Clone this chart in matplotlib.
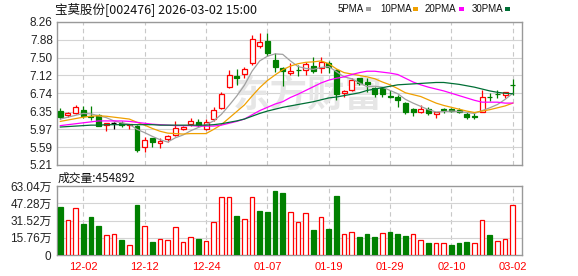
import matplotlib
matplotlib.use("Agg")
import matplotlib.pyplot as plt
from matplotlib.patches import Rectangle

plt.rcParams['font.family'] = ['Liberation Sans', 'Noto Sans CJK SC']

# daily data, 2025-11-27 .. 2026-03-02
dates = ["11-27", "11-28", "12-01", "12-02", "12-03", "12-04", "12-05", "12-08", "12-09", "12-10",
         "12-11", "12-12", "12-15", "12-16", "12-17", "12-18", "12-19", "12-22", "12-23", "12-24",
         "12-25", "12-26", "12-29", "12-30", "12-31", "01-05", "01-06", "01-07", "01-08", "01-09",
         "01-12", "01-13", "01-14", "01-15", "01-16", "01-19", "01-20", "01-21", "01-22", "01-23",
         "01-26", "01-27", "01-28", "01-29", "01-30", "02-02", "02-03", "02-04", "02-05", "02-06",
         "02-09", "02-10", "02-11", "02-12", "02-13", "02-24", "02-25", "02-26", "02-27", "03-02"]

opens = [6.36, 6.27, 6.31, 6.38, 6.25, 6.28, 6.06, 6.10, 6.11, 6.06,
         6.04, 5.60, 5.79, 5.68, 5.76, 5.85, 5.98, 6.09, 6.13, 5.98,
         6.19, 6.43, 6.87, 7.11, 7.15, 7.38, 7.75, 7.86, 7.46, 7.27,
         7.18, 7.24, 7.24, 7.32, 7.27, 7.39, 7.24, 6.75, 6.81, 7.06,
         6.97, 6.86, 6.86, 6.68, 6.65, 6.53, 6.40, 6.34, 6.40, 6.29,
         6.40, 6.40, 6.38, 6.29, 6.25, 6.33, 6.67, 6.73, 6.70, 6.92]
closes = [6.24, 6.31, 6.44, 6.25, 6.24, 6.05, 6.10, 6.10, 6.06, 6.08,
          5.52, 5.74, 5.69, 5.72, 5.83, 5.99, 6.01, 6.15, 6.06, 6.13,
          6.38, 6.72, 7.13, 7.06, 7.25, 7.89, 7.84, 7.59, 7.31, 7.21,
          7.22, 7.23, 7.36, 7.22, 7.41, 7.31, 6.72, 6.79, 7.02, 6.95,
          6.93, 6.73, 6.73, 6.65, 6.60, 6.33, 6.33, 6.40, 6.31, 6.33,
          6.39, 6.36, 6.34, 6.23, 6.24, 6.67, 6.66, 6.72, 6.76, 6.91]
highs = [6.42, 6.34, 6.49, 6.47, 6.47, 6.30, 6.10, 6.13, 6.15, 6.08,
         6.06, 5.81, 5.79, 5.79, 5.85, 6.15, 6.04, 6.21, 6.19, 6.19,
         6.44, 6.77, 7.24, 7.25, 7.31, 7.98, 8.02, 8.02, 7.59, 7.31,
         7.38, 7.34, 7.41, 7.51, 7.52, 7.43, 7.25, 6.82, 7.06, 7.07,
         7.06, 6.88, 6.88, 6.81, 6.70, 6.56, 6.42, 6.50, 6.44, 6.33,
         6.42, 6.43, 6.42, 6.33, 6.33, 6.81, 6.74, 6.81, 6.76, 7.04]
lows = [6.20, 6.24, 6.30, 6.21, 6.17, 6.04, 5.94, 5.97, 6.03, 5.98,
        5.48, 5.49, 5.60, 5.58, 5.71, 5.83, 5.96, 6.05, 6.01, 5.96,
        6.15, 6.40, 6.85, 6.92, 7.06, 7.34, 7.70, 7.53, 7.20, 6.89,
        7.13, 7.11, 7.14, 7.17, 7.17, 7.17, 6.60, 6.67, 6.79, 6.92,
        6.77, 6.67, 6.67, 6.63, 6.45, 6.30, 6.25, 6.31, 6.28, 6.22,
        6.31, 6.35, 6.31, 6.20, 6.20, 6.33, 6.58, 6.63, 6.63, 6.70]

# volume in 万 shares
volumes = [44.1, 32.0, 42.9, 28.6, 34.7, 26.5, 18.3, 19.2, 13.7, 8.8,
           46.0, 26.5, 12.2, 14.3, 13.7, 25.3, 11.9, 16.2, 14.6, 12.8,
           29.9, 52.7, 52.7, 35.6, 32.6, 52.7, 40.2, 39.3, 58.5, 56.6,
           39.0, 29.9, 38.1, 22.8, 34.4, 23.8, 53.9, 18.9, 20.7, 16.4,
           19.2, 16.4, 20.1, 21.0, 19.2, 17.4, 19.2, 13.7, 11.0, 11.0,
           11.0, 9.1, 11.0, 11.9, 11.0, 32.0, 18.3, 12.8, 14.6, 45.49]

ma5 = [6.19, 6.23, 6.27, 6.31, 6.30, 6.26, 6.22, 6.15, 6.11, 6.08,
       5.97, 5.90, 5.82, 5.75, 5.70, 5.79, 5.85, 5.94, 6.01, 6.07,
       6.15, 6.29, 6.48, 6.68, 6.91, 7.21, 7.43, 7.53, 7.58, 7.57,
       7.43, 7.31, 7.27, 7.25, 7.29, 7.31, 7.20, 7.09, 7.05, 6.96,
       6.88, 6.89, 6.87, 6.80, 6.73, 6.61, 6.53, 6.46, 6.39, 6.34,
       6.35, 6.36, 6.35, 6.33, 6.31, 6.37, 6.43, 6.50, 6.61, 6.74]
ma10 = [6.14, 6.17, 6.20, 6.23, 6.25, 6.26, 6.25, 6.23, 6.21, 6.19,
        6.12, 6.06, 5.99, 5.93, 5.89, 5.88, 5.87, 5.88, 5.88, 5.88,
        5.97, 6.07, 6.21, 6.35, 6.49, 6.68, 6.86, 7.01, 7.13, 7.24,
        7.32, 7.37, 7.40, 7.41, 7.43, 7.37, 7.26, 7.18, 7.15, 7.12,
        7.09, 7.05, 6.98, 6.92, 6.84, 6.75, 6.71, 6.67, 6.60, 6.53,
        6.48, 6.44, 6.40, 6.36, 6.33, 6.36, 6.39, 6.43, 6.47, 6.53]
ma20 = [6.05, 6.07, 6.09, 6.11, 6.13, 6.15, 6.15, 6.15, 6.15, 6.14,
        6.12, 6.10, 6.08, 6.07, 6.06, 6.05, 6.05, 6.05, 6.04, 6.04,
        6.04, 6.06, 6.10, 6.14, 6.19, 6.28, 6.37, 6.44, 6.51, 6.56,
        6.65, 6.72, 6.80, 6.88, 6.96, 7.02, 7.06, 7.09, 7.14, 7.18,
        7.21, 7.21, 7.19, 7.17, 7.14, 7.06, 6.98, 6.92, 6.87, 6.83,
        6.79, 6.74, 6.69, 6.64, 6.59, 6.55, 6.55, 6.55, 6.53, 6.53]
ma30 = [6.02, 6.03, 6.04, 6.05, 6.06, 6.06, 6.07, 6.07, 6.07, 6.07,
        6.07, 6.07, 6.07, 6.06, 6.06, 6.06, 6.06, 6.06, 6.06, 6.06,
        6.07, 6.09, 6.12, 6.15, 6.19, 6.25, 6.31, 6.36, 6.40, 6.44,
        6.47, 6.50, 6.53, 6.56, 6.60, 6.64, 6.66, 6.69, 6.72, 6.75,
        6.80, 6.83, 6.86, 6.89, 6.92, 6.93, 6.94, 6.95, 6.96, 6.97,
        6.97, 6.95, 6.93, 6.90, 6.87, 6.83, 6.79, 6.76, 6.74, 6.73]

price_ticks = [5.21, 5.59, 5.97, 6.35, 6.74, 7.12, 7.50, 7.88, 8.26]
vol_ticks = [0, 15.76, 31.52, 47.28, 63.04]
vol_tick_labels = ["0", "15.76万", "31.52万", "47.28万", "63.04万"]
tick_dates = ["12-02", "12-12", "12-24", "01-07", "01-19", "01-29", "02-10", "03-02"]

title = "宝莫股份[002476] 2026-03-02 15:00"
vol_title = "成交量:454892"
ma_names = ["5PMA", "10PMA", "20PMA", "30PMA"]

RED = "#ff0000"
GREEN = "#008000"
ma_colors = ["#a0a0a0", "#f0a000", "#ff00ff", "#006f35"]
GRID = "#d4d4d4"
FRAME = "#999999"

n = len(dates)
x = list(range(n))
tick_idx = [dates.index(d) for d in tick_dates]

W, H = 578, 276
fig = plt.figure(figsize=(W / 100, H / 100), dpi=100)
ax = fig.add_axes([57 / W, 1 - 165 / H, 465 / W, 143 / H])
ax2 = fig.add_axes([57 / W, 1 - 255 / H, 465 / W, 69 / H])

xlim = (-0.43, 60.2)
for a in (ax, ax2):
    a.set_xlim(*xlim)
    for s in a.spines.values():
        s.set_color(FRAME)
        s.set_linewidth(1)
    for t in tick_idx:
        a.axvline(t, color="#c8c8c8", lw=0.8, ls=(0, (4, 3)), zorder=0)
    a.tick_params(length=0, labelsize=8.5, colors="#222222")

# price panel
ax.set_ylim(price_ticks[0], price_ticks[-1])
ax.set_yticks(price_ticks)
ax.set_yticklabels(["%.2f" % p for p in price_ticks])
ax.tick_params(axis="y", pad=3)
ax.set_xticks([])
for p in price_ticks:
    ax.axhline(p, color=GRID, lw=0.8, zorder=0)

ax.text(0.378, 0.48, "东方财富", transform=ax.transAxes, fontsize=27,
        fontweight="bold", color="#e6e6e6", family="Noto Sans CJK SC",
        ha="left", va="center", zorder=0)

bw = 0.65
for i in x:
    o, c, h, l = opens[i], closes[i], highs[i], lows[i]
    if c > o:
        col, face = RED, "white"
    elif c < o:
        col, face = GREEN, GREEN
    else:
        col, face = "black", "black"
    ax.vlines(i, l, h, color=col, lw=0.9, zorder=3)
    if c == o:
        ax.hlines(c, i - bw / 2, i + bw / 2, color=col, lw=1, zorder=4)
    else:
        ax.add_patch(Rectangle((i - bw / 2, min(o, c)), bw, abs(c - o),
                               facecolor=face, edgecolor=col, lw=0.9, zorder=4))

for ma, col in zip([ma5, ma10, ma20, ma30], ma_colors):
    ax.plot(x, ma, color=col, lw=0.9, zorder=5)

# volume panel
ax2.set_ylim(0, vol_ticks[-1])
ax2.set_yticks(vol_ticks)
ax2.set_yticklabels(vol_tick_labels)
ax2.tick_params(axis="y", pad=4)
for v in vol_ticks[1:-1]:
    ax2.axhline(v, color=GRID, lw=0.8, zorder=0)

faces, edges = [], []
for i in x:
    prev = closes[i - 1] if i > 0 else opens[i]
    if closes[i] >= prev:
        faces.append("white")
        edges.append(RED)
    else:
        faces.append(GREEN)
        edges.append(GREEN)
ax2.bar(x, volumes, width=0.6, color=faces, edgecolor=edges, lw=0.9, zorder=3)

ax2.set_xticks(tick_idx)
ax2.set_xticklabels(tick_dates)
ax2.tick_params(axis="x", colors=RED, pad=5, labelsize=8)

# header texts and legend
fig.text(55 / W, 1 - 9 / H, title, fontsize=9, ha="left", va="center",
         family=["Noto Sans CJK SC"], color="#111111")
fig.text(58 / W, 1 - 178 / H, vol_title, fontsize=8.5, ha="left", va="center",
         family=["Noto Sans CJK SC"], color="#111111")

legend_x = [338, 380, 425, 472]
square_x = [366, 413, 459, 505]
for name, col, lx, sx in zip(ma_names, ma_colors, legend_x, square_x):
    fig.text(lx / W, 1 - 9 / H, name, fontsize=7, ha="left", va="center",
             color="#111111")
    fig.patches.append(Rectangle((sx / W, 1 - 10.5 / H), 5 / W, 4 / H,
                                 transform=fig.transFigure, facecolor=col,
                                 edgecolor="none", figure=fig))

fig.savefig("out.png", dpi=100)
